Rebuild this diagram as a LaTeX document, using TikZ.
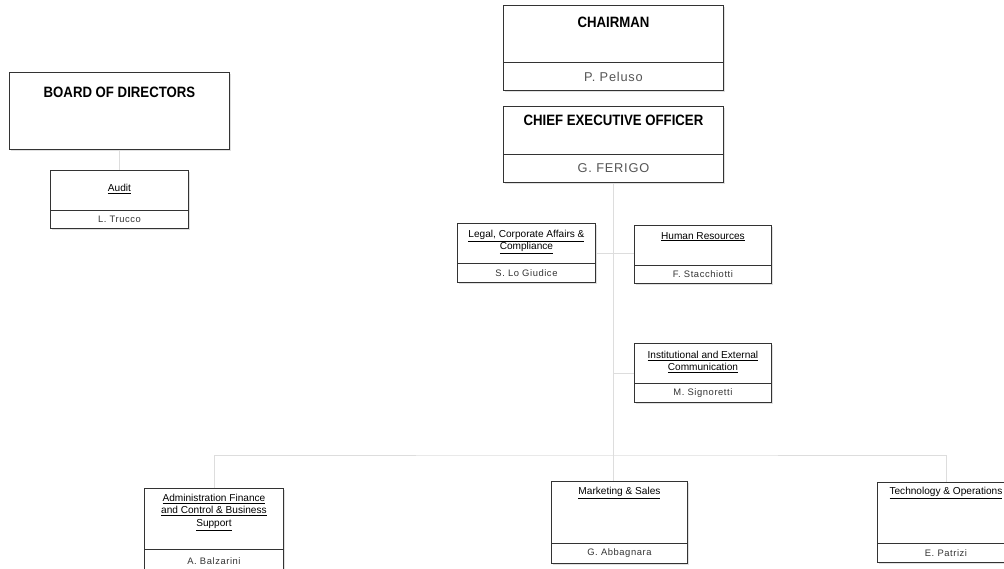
\documentclass[tikz,border=0pt]{standalone}
\usepackage{fontspec}
\setmainfont{Liberation Sans}
\newfontfamily\headfont[FakeStretch=0.88]{Liberation Sans}
\newfontfamily\namefont[LetterSpace=6]{Liberation Sans}
\usetikzlibrary{positioning, shadows}

\definecolor{boxline}{HTML}{333333}
\definecolor{linkgray}{HTML}{DDDDDD}
\definecolor{namegray}{HTML}{555555}

\tikzset{
  unit/.style={draw=boxline, line width=0.9pt, fill=white, inner sep=0pt, anchor=north west,
    drop shadow={shadow xshift=2pt, shadow yshift=-2pt, opacity=0.12, fill=black}},
  who/.style={draw=boxline, line width=0.9pt, inner sep=0pt, anchor=south, minimum height=#1},
  bigtitle/.style={inner sep=0pt, font=\headfont\bfseries\fontsize{15}{17}\selectfont},
  smalltitle/.style={inner sep=0pt, align=center, font=\fontsize{10.1}{12.4}\selectfont},
  bigname/.style={text=namegray, font=\namefont\fontsize{12.8}{14}\selectfont},
  smallname/.style={text=black!80, font=\namefont\fontsize{9.4}{11}\selectfont},
  link/.style={draw=linkgray, line width=0.9pt}
}

\begin{document}
\begin{tikzpicture}[x=1pt, y=-1pt]
        \useasboundingbox (0,0) rectangle (1004,568);

        % Board side
        \node[unit, minimum width=220pt, minimum height=77pt] (board) at (9,72) {};
        \node[bigtitle, below=15pt of board.north] (boardtitle) {BOARD OF DIRECTORS};

        \node[unit, minimum width=138pt, minimum height=58pt] (audit) at (50,170) {};
        \node[who=18pt, minimum width=138pt, smallname] (auditname) at (audit.south) {L. Trucco};
        \node[smalltitle, below=14pt of audit.north] (audittitle) {\underline{Audit}};

        % Chairman and CEO
        \node[unit, minimum width=220pt, minimum height=85pt] (chair) at (503,5) {};
        \node[who=28pt, minimum width=220pt, bigname] (chairname) at (chair.south) {P. Peluso};
        \node[bigtitle, below=12pt of chair.north] (chairtitle) {CHAIRMAN};

        \node[unit, minimum width=220pt, minimum height=76pt] (ceo) at (503,106) {};
        \node[who=28pt, minimum width=220pt, bigname] (ceoname) at (ceo.south) {G. FERIGO};
        \node[bigtitle, below=9pt of ceo.north] (ceotitle) {CHIEF EXECUTIVE OFFICER};

        % Staff functions
        \node[unit, minimum width=138pt, minimum height=59pt] (legal) at (457,223) {};
        \node[who=19pt, minimum width=138pt, smallname] (legalname) at (legal.south) {S. Lo Giudice};
        \node[smalltitle, below=7pt of legal.north] (legaltitle)
            {\underline{Legal, Corporate Affairs \&}\\\underline{Compliance}};

        \node[unit, minimum width=137pt, minimum height=58pt] (hr) at (634,225) {};
        \node[who=18pt, minimum width=137pt, smallname] (hrname) at (hr.south) {F. Stacchiotti};
        \node[smalltitle, below=7pt of hr.north] (hrtitle) {\underline{Human Resources}};

        \node[unit, minimum width=137pt, minimum height=59pt] (inst) at (634,343) {};
        \node[who=19pt, minimum width=137pt, smallname] (instname) at (inst.south) {M. Signoretti};
        \node[smalltitle, below=8pt of inst.north] (insttitle)
            {\underline{Institutional and External}\\\underline{Communication}};

        % Line divisions
        \node[unit, minimum width=139pt, minimum height=85pt] (admin) at (144,488) {};
        \node[who=24pt, minimum width=139pt, smallname] (adminname) at (admin.south) {A. Balzarini};
        \node[smalltitle, below=6pt of admin.north] (admintitle)
            {\underline{Administration Finance}\\\underline{and Control \& Business}\\\underline{Support}};

        \node[unit, minimum width=136pt, minimum height=82pt] (market) at (551,481) {};
        \node[who=20pt, minimum width=136pt, smallname] (marketname) at (market.south) {G. Abbagnara};
        \node[smalltitle, below=6pt of market.north] (markettitle) {\underline{Marketing \& Sales}};

        \node[unit, minimum width=137pt, minimum height=80pt] (tech) at (877,482) {};
        \node[who=19pt, minimum width=137pt, smallname] (techname) at (tech.south) {E. Patrizi};
        \node[smalltitle, below=5pt of tech.north] (techtitle) {\underline{Technology \& Operations}};

        % Connectors
        \coordinate (bus) at (613,455);
        \draw[link] (board.south) -- (audit.north);
        \draw[link] (ceo.south) -- (ceo.south |- market.north);
        \draw[link] (legal.east) -- (legal.east -| hr.west);
        \draw[link] (inst.west) -- (inst.west -| ceo.south);
        \draw[link] (admin.north) |- (bus) -| (tech.north);
\end{tikzpicture}
\end{document}
